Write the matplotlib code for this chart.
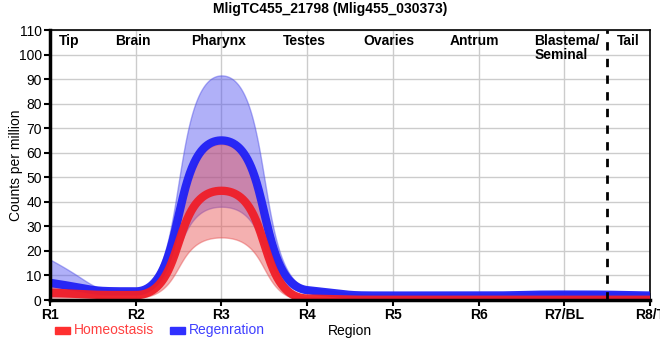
import numpy as np
import matplotlib
matplotlib.use("Agg")
import matplotlib.pyplot as plt

plt.rcParams['font.family'] = ['Liberation Sans', 'DejaVu Sans']

regions = ["R1", "R2", "R3", "R4", "R5", "R6", "R7/BL", "R8/T"]
tissues = ["Tip", "Brain", "Pharynx", "Testes", "Ovaries", "Antrum", "Blastema/\nSeminal", "Tail"]
tissue_pos = [0.22, 0.97, 1.97, 2.97, 3.95, 4.95, 6.03, 6.75]

homeo_mean = [3.0, 2.0, 44.5, 0.6, 0.1, 0.1, 0.1, 0.1]
homeo_low = [1.0, 1.0, 25.5, 0.0, 0.0, 0.0, 0.0, 0.0]
homeo_high = [5.5, 3.0, 63.5, 1.2, 0.4, 0.4, 0.4, 0.4]

regen_mean = [7.0, 3.5, 65.0, 4.0, 1.8, 1.8, 2.2, 1.8]
regen_low = [1.5, 2.8, 38.0, 3.0, 1.3, 1.3, 1.5, 1.3]
regen_high = [16.5, 4.0, 91.5, 5.2, 2.3, 2.5, 3.2, 2.8]

C = 0.6  # reach of the spline control points (fraction of the knot spacing)


def smooth(xs, ys, grid):
    xs = np.asarray(xs, float)
    ys = np.asarray(ys, float)
    h = np.diff(xs)
    d = np.diff(ys) / h
    m = np.zeros_like(ys)
    for i in range(1, len(ys) - 1):
        if d[i - 1] * d[i] > 0:
            m[i] = (np.sign(d[i - 1]) + np.sign(d[i])) * min(abs(d[i - 1]), abs(d[i]),
                                                             0.5 * abs((h[i - 1] * d[i] + h[i] * d[i - 1]) / (h[i - 1] + h[i])))
    m[0] = (3 * d[0] - m[1]) / 2
    m[-1] = (3 * d[-1] - m[-2]) / 2
    s = np.linspace(0, 1, 200)
    b0 = (1 - s) ** 3
    b1 = 3 * s * (1 - s) ** 2
    b2 = 3 * s ** 2 * (1 - s)
    b3 = s ** 3
    px, py = [], []
    for i in range(len(xs) - 1):
        x0, x3 = xs[i], xs[i + 1]
        y0, y3 = ys[i], ys[i + 1]
        lo, hi = min(y0, y3), max(y0, y3)
        x1, y1 = x0 + C * h[i], np.clip(y0 + m[i] * C * h[i], lo, hi)
        x2, y2 = x3 - C * h[i], np.clip(y3 - m[i + 1] * C * h[i], lo, hi)
        px.append(b0 * x0 + b1 * x1 + b2 * x2 + b3 * x3)
        py.append(b0 * y0 + b1 * y1 + b2 * y2 + b3 * y3)
    px = np.concatenate(px)
    py = np.concatenate(py)
    order = np.argsort(px, kind="stable")
    return np.interp(grid, px[order], py[order])


x = np.arange(len(regions))
grid = np.linspace(0, len(regions) - 1, 1400)

fig = plt.figure(figsize=(6.6, 3.6), dpi=100)
ax = fig.add_axes([50 / 660, 1 - 300 / 360, 600 / 660, 270 / 360])

red_line = "#f01e28"
blue_line = "#2020f5"

ax.fill_between(grid, smooth(x, regen_low, grid), smooth(x, regen_high, grid), color="#5050f0",
                alpha=0.45, lw=1, edgecolor=(0.3, 0.3, 0.9, 0.6), zorder=2)
ax.fill_between(grid, smooth(x, homeo_low, grid), smooth(x, homeo_high, grid), color="#e85050",
                alpha=0.45, lw=1, edgecolor=(0.9, 0.3, 0.3, 0.6), zorder=2)
ax.plot(grid, smooth(x, regen_mean, grid), color=blue_line, lw=6, solid_capstyle="butt", zorder=3, alpha=0.95)
ax.plot(grid, smooth(x, homeo_mean, grid), color=red_line, lw=6, solid_capstyle="butt", zorder=4, alpha=0.95)

ax.set_xlim(0, 7)
ax.set_ylim(0, 110)
ax.set_xticks(x)
ax.set_xticklabels(regions, fontweight="bold", fontsize=10)
ax.set_yticks(np.arange(0, 111, 10))
ax.tick_params(axis="y", labelsize=10, length=4, width=1.5, pad=2)
ax.tick_params(axis="x", length=4, width=1.5, pad=2)
ax.grid(True, color="#cccccc", lw=1, zorder=0)
ax.set_axisbelow(True)
for s in ["top", "right"]:
    ax.spines[s].set_linewidth(1.2)
for s in ["left", "bottom"]:
    ax.spines[s].set_linewidth(2.5)
    ax.spines[s].set_zorder(5)

ax.axvline(6.5, color="black", ls=(0, (3, 3)), lw=2, zorder=6)

for t, p in zip(tissues, tissue_pos):
    ax.text(p, 108.5, t, ha="center", va="top", fontweight="bold", fontsize=10, linespacing=1.0,
            multialignment="left", zorder=7)

fig.text(16 / 660, 1 - 165 / 360, "Counts per million", rotation=90, ha="center", va="center", fontsize=10)
fig.text(350 / 660, 1 - 331 / 360, "Region", ha="center", va="center", fontsize=10)
fig.text(330 / 660, 1 - 9 / 360, "MligTC455_21798 (Mlig455_030373)", ha="center", va="center",
         fontweight="bold", fontsize=10)

# legend
fig.patches.append(plt.Rectangle((55 / 660, 1 - 334 / 360), 15 / 660, 7 / 360, color="#ff3030",
                                 transform=fig.transFigure, figure=fig))
fig.text(74 / 660, 1 - 330 / 360, "Homeostasis", ha="left", va="center", fontsize=10, color="#ff4040")
fig.patches.append(plt.Rectangle((170 / 660, 1 - 334 / 360), 15 / 660, 7 / 360, color="#3030ff",
                                 transform=fig.transFigure, figure=fig))
fig.text(189 / 660, 1 - 330 / 360, "Regenration", ha="left", va="center", fontsize=10, color="#4040ff")

fig.savefig("out.png", dpi=100)
